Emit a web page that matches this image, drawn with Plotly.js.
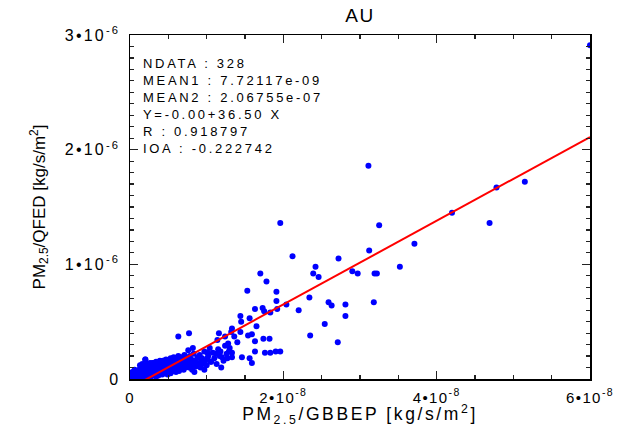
<!DOCTYPE html>
<html>
<head>
<meta charset="utf-8">
<script src="https://cdn.plot.ly/plotly-3.0.1.min.js"></script>
<style>
html,body{margin:0;padding:0;background:#fff;}
#chart{width:639px;height:427px;}
#chart .xtick text{letter-spacing:1.4px;}
#chart .ytick text{letter-spacing:2.2px;}
#chart .g-xtitle text{letter-spacing:2.6px;}
#chart .annotation-text{letter-spacing:2.7px;}
#chart .gtitle{letter-spacing:1.5px;}
</style>
</head>
<body>
<div id="chart"></div>
<script>
// Units: GBBEP values in 1e-8 kg/s/m2, QFED values in 1e-6 kg/s/m2
const X_UNIT = 1e-8;
const Y_UNIT = 1e-6;

const gbbep = [
  6.00,5.15,4.78,4.20,4.69,3.11,3.25,3.71,2.72,2.42,2.39,2.46,2.90,2.97,3.12,3.19,3.22,3.52,
  2.34,2.59,2.63,2.81,2.81,3.18,2.71,2.54,2.35,2.20,2.12,1.96,1.70,1.78,1.53,1.91,1.91,2.04,
  1.63,1.73,1.75,1.83,1.92,1.44,1.56,1.45,1.65,1.33,1.16,1.32,1.44,1.54,1.59,1.14,1.74,1.82,
  1.36,0.63,0.77,0.82,0.76,1.76,1.83,1.90,1.96,1.63,1.46,1.56,1.59,1.19,1.29,1.33,1.33,1.20,
  1.27,1.12,1.01,1.01,0.93,0.84,0.97,0.80,0.71,0.84,0.78,0.72,0.64,0.59,0.68,0.55,0.44,0.43,
  0.38,0.29,0.20,1.40,1.28,1.24,1.63,1.18,1.05,0.72,0.75,
  0.02,0.03,0.04,0.05,0.05,0.06,0.07,0.08,0.08,0.09,0.10,0.10,0.03,0.06,0.01,0.04,0.07,0.09,0.02,0.11,
  0.12,0.12,0.13,0.14,0.14,0.15,0.15,0.16,0.17,0.17,0.18,0.18,0.19,0.19,0.20,0.20,0.13,0.16,0.11,0.18,
  0.21,0.21,0.22,0.22,0.23,0.23,0.24,0.24,0.25,0.25,0.26,0.26,0.27,0.27,0.28,0.28,0.29,0.29,0.30,0.30,
  0.31,0.31,0.32,0.32,0.33,0.33,0.34,0.34,0.35,0.35,0.36,0.36,0.37,0.37,0.38,0.38,0.39,0.39,0.40,0.40,
  0.41,0.41,0.42,0.42,0.43,0.43,0.44,0.44,0.45,0.45,0.46,0.46,0.47,0.47,0.48,0.48,0.49,0.49,0.50,0.50,
  0.51,0.51,0.52,0.52,0.53,0.53,0.54,0.54,0.55,0.55,0.56,0.56,0.57,0.57,0.58,0.58,0.59,0.59,0.60,0.60,
  0.61,0.61,0.62,0.62,0.63,0.63,0.64,0.65,0.65,0.66,0.67,0.67,0.68,0.69,0.70,0.70,0.71,0.72,0.73,0.74,
  0.76,0.77,0.78,0.79,0.80,0.81,0.83,0.85,0.86,0.88,0.89,0.91,0.92,0.94,0.95,0.97,0.98,1.00,1.02,1.04,
  1.06,1.08,1.10,1.13,1.15,1.17,1.22,1.24,1.26,1.30
];
const qfed = [
  2.91,1.72,1.67,1.45,1.36,1.86,1.34,1.18,1.05,0.98,0.92,0.89,0.94,0.92,1.12,0.92,0.92,0.98,
  0.71,0.67,0.64,0.65,0.55,0.67,0.32,0.48,0.38,0.60,1.07,1.36,0.92,0.85,0.77,0.76,0.68,0.65,
  0.61,0.62,0.59,0.58,0.61,0.55,0.53,0.50,0.46,0.44,0.40,0.41,0.41,0.38,0.39,0.34,0.35,0.35,
  0.37,0.37,0.40,0.27,0.25,0.23,0.23,0.24,0.24,0.24,0.19,0.18,0.14,0.10,0.24,0.23,0.19,0.19,
  0.18,0.22,0.23,0.18,0.17,0.14,0.08,0.12,0.19,0.06,0.18,0.13,0.18,0.18,0.14,0.12,0.16,0.11,
  0.14,0.14,0.17,0.32,0.31,0.37,0.33,0.24,0.15,0.10,0.17,
  0.01,0.03,0.00,0.02,0.05,0.01,0.03,0.06,0.00,0.02,0.04,0.01,0.06,0.08,0.02,0.04,0.00,0.07,0.05,0.06,
  0.02,0.08,0.05,0.00,0.10,0.03,0.07,0.05,0.01,0.09,0.04,0.11,0.06,0.02,0.08,0.17,0.12,0.13,0.03,0.07,
  0.03,0.10,0.05,0.13,0.07,0.01,0.09,0.12,0.04,0.06,0.11,0.14,0.02,0.08,0.05,0.10,0.13,0.07,0.03,0.11,
  0.06,0.14,0.09,0.04,0.12,0.07,0.15,0.02,0.10,0.05,0.13,0.08,0.11,0.03,0.14,0.06,0.09,0.16,0.12,0.05,
  0.08,0.14,0.04,0.11,0.16,0.07,0.13,0.10,0.05,0.15,0.09,0.12,0.06,0.17,0.11,0.14,0.08,0.04,0.13,0.16,
  0.10,0.07,0.15,0.12,0.05,0.18,0.09,0.14,0.11,0.16,0.07,0.13,0.10,0.19,0.15,0.08,0.12,0.17,0.06,0.14,
  0.11,0.18,0.09,0.15,0.13,0.20,0.07,0.16,0.11,0.14,0.19,0.09,0.12,0.17,0.14,0.08,0.21,0.11,0.16,0.13,
  0.15,0.10,0.20,0.13,0.17,0.08,0.22,0.16,0.11,0.19,0.14,0.21,0.10,0.18,0.13,0.24,0.16,0.12,0.20,0.27,
  0.15,0.23,0.18,0.13,0.26,0.20,0.16,0.29,0.22,0.27
];

// Regression fit: Y = intercept + slope * X
const fitIntercept = -8.0e-8;
const fitSlope = 36.50;
const fitX = [0, 6e-8];

const statLines = [
  "NDATA : 328",
  "MEAN1 : 7.72117e-09",
  "MEAN2 : 2.06755e-07",
  "Y=-0.00+36.50 X",
  "R : 0.918797",
  "IOA : -0.222742"
];

const xTickVals = [0, 2e-8, 4e-8, 6e-8];
const xTickText = ["0", "2•10<sup>-8</sup>", "4•10<sup>-8</sup>", "6•10<sup>-8</sup>"];
const yTickVals = [0, 1e-6, 2e-6, 3e-6];
const yTickText = ["0", "1•10<sup>-6</sup>", "2•10<sup>-6</sup>", "3•10<sup>-6</sup>"];

const FONT = "Liberation Sans, Arial, Helvetica, sans-serif";

const traces = [
  {
    x: gbbep.map(v => v * X_UNIT),
    y: qfed.map(v => v * Y_UNIT),
    type: "scatter",
    mode: "markers",
    marker: {color: "#0000ff", size: 6, line: {width: 0}},
    hoverinfo: "x+y"
  },
  {
    x: fitX,
    y: fitX.map(v => fitIntercept + fitSlope * v),
    type: "scatter",
    mode: "lines",
    line: {color: "#ff0000", width: 2}
  }
];

const axisCommon = {
  showgrid: false,
  zeroline: false,
  showline: true,
  linecolor: "#000",
  linewidth: 1.5,
  mirror: "ticks",
  ticks: "inside",
  ticklen: 8,
  tickwidth: 1.2,
  tickcolor: "#222",
  tickmode: "array"
};

const layout = {
  width: 639,
  height: 427,
  margin: {l: 130, r: 49, t: 35, b: 48},
  paper_bgcolor: "#fff",
  plot_bgcolor: "#fff",
  showlegend: false,
  title: {
    text: "AU",
    font: {family: FONT, size: 19, color: "#000"},
    x: 0.5635, xanchor: "center",
    y: 0.965, yanchor: "middle"
  },
  xaxis: Object.assign({}, axisCommon, {
    range: [0, 6e-8],
    tickvals: xTickVals,
    ticktext: xTickText,
    tickfont: {family: FONT, size: 15, color: "#000"},
    ticklabelstandoff: 4,
    minor: {tickmode: "linear", tick0: 0, dtick: 0.5e-8, ticks: "inside", ticklen: 4, tickwidth: 1.2, tickcolor: "#222"},
    title: {text: "PM<sub>2.5</sub>/GBBEP [kg/s/m<sup>2</sup>]", font: {family: FONT, size: 17.5, color: "#000"}, standoff: 7}
  }),
  yaxis: Object.assign({}, axisCommon, {
    range: [0, 3e-6],
    tickvals: yTickVals,
    ticktext: yTickText,
    tickfont: {family: FONT, size: 16, color: "#000"},
    ticklabelstandoff: 5,
    minor: {tickmode: "linear", tick0: 0, dtick: 1e-7, ticks: "inside", ticklen: 4, tickwidth: 1.2, tickcolor: "#222"},
    title: {text: "PM<sub>2.5</sub>/QFED [kg/s/m<sup>2</sup>]", font: {family: FONT, size: 17, color: "#000"}, standoff: 28}
  }),
  annotations: [{
    xref: "paper", yref: "paper",
    x: 0.024, y: 0.945,
    xanchor: "left", yanchor: "top",
    align: "left",
    showarrow: false,
    text: statLines.join("<br>"),
    font: {family: FONT, size: 13, color: "#000"}
  }]
};

Plotly.newPlot("chart", traces, layout, {displayModeBar: false, staticPlot: true});
</script>
</body>
</html>
